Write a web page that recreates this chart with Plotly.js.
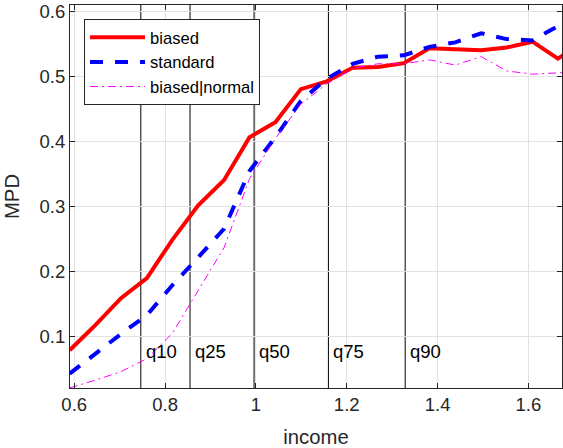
<!DOCTYPE html>
<html>
<head>
<meta charset="utf-8">
<script src="https://cdn.plot.ly/plotly-3.0.1.min.js"></script>
<style>
  body { margin: 0; background: #fff; }
  #chart { width: 563px; height: 448px; }
</style>
</head>
<body>
<div id="chart"></div>
<script>
// income grid
var income = [0.590, 0.647, 0.703, 0.760, 0.816, 0.873, 0.930, 0.986, 1.043, 1.099, 1.156,
              1.213, 1.269, 1.326, 1.382, 1.439, 1.496, 1.552, 1.609, 1.665, 1.722];

// MPD per model
var biased = [0.079, 0.118, 0.159, 0.190, 0.249, 0.302, 0.341, 0.407, 0.430, 0.481, 0.493,
              0.514, 0.515, 0.521, 0.544, 0.542, 0.541, 0.545, 0.554, 0.528, 0.555];
var standard = [0.043, 0.074, 0.104, 0.133, 0.179, 0.222, 0.266, 0.355, 0.407, 0.463, 0.497,
                0.520, 0.531, 0.533, 0.546, 0.553, 0.567, 0.558, 0.556, 0.578, 0.610];
var biasedNormal = [0.021, 0.033, 0.046, 0.066, 0.105, 0.172, 0.237, 0.343, 0.405, 0.458, 0.489,
                    0.513, 0.520, 0.520, 0.526, 0.518, 0.531, 0.509, 0.504, 0.506, 0.508];

// income quantiles
var qNames = ["q10", "q25", "q50", "q75", "q90"];
var qValues = [0.7466, 0.855, 0.996, 1.1597, 1.3287];
var qLabelY = 0.0766;

var xTicks = [0.6, 0.8, 1, 1.2, 1.4, 1.6];
var xTickText = ["0.6", "0.8", "1", "1.2", "1.4", "1.6"];
var yTicks = [0.1, 0.2, 0.3, 0.4, 0.5, 0.6];
var yTickText = ["0.1", "0.2", "0.3", "0.4", "0.5", "0.6"];

var font = "Liberation Sans, Arial, Helvetica, sans-serif";
var axisColor = "#262626";

var data = [
  {
    x: income, y: biased, name: "biased", type: "scatter", mode: "lines",
    line: { color: "#ff0000", width: 4 }
  },
  {
    x: income, y: standard, name: "standard", type: "scatter", mode: "lines",
    line: { color: "#0000ff", width: 4, dash: "13px,12px" }
  },
  {
    x: income, y: biasedNormal, name: "biased|normal", type: "scatter", mode: "lines",
    line: { color: "#ff00ff", width: 1, dash: "8px,4px,2px,4px" }
  }
];

var shapes = qValues.map(function (q) {
  return {
    type: "line", xref: "x", yref: "paper", x0: q, x1: q, y0: 0, y1: 1,
    line: { color: "#000000", width: 1 }, layer: "below"
  };
});

var annotations = qValues.map(function (q, i) {
  return {
    x: q, y: qLabelY, xref: "x", yref: "y", text: qNames[i],
    showarrow: false, xanchor: "left", yanchor: "middle", xshift: 3,
    font: { family: font, size: 18.5, color: "#000000" }
  };
});

var axisBase = {
  showline: true, mirror: "ticks", linecolor: axisColor, linewidth: 1,
  ticks: "inside", ticklen: 5, tickcolor: axisColor, tickwidth: 1,
  showgrid: true, gridcolor: "#e2e2e2", gridwidth: 1, zeroline: false,
  tickfont: { family: font, size: 18.5, color: axisColor }
};

var layout = {
  width: 563,
  height: 448,
  margin: { l: 70, r: 1, t: 5, b: 60 },
  paper_bgcolor: "#ffffff",
  plot_bgcolor: "#ffffff",
  showlegend: true,
  xaxis: Object.assign({}, axisBase, {
    range: [0.5907, 1.674],
    tickvals: xTicks, ticktext: xTickText,
    title: { text: "income", font: { family: font, size: 20.3, color: axisColor } }
  }),
  yaxis: Object.assign({}, axisBase, {
    range: [0.0208, 0.6105],
    tickvals: yTicks, ticktext: yTickText,
    title: { text: "MPD", font: { family: font, size: 20.3, color: axisColor } }
  }),
  legend: {
    x: 0.0285, y: 0.9634, xanchor: "left", yanchor: "top",
    bgcolor: "#ffffff", bordercolor: axisColor, borderwidth: 1,
    itemwidth: 55,
    font: { family: font, size: 16.6, color: "#000000" }
  },
  shapes: shapes,
  annotations: annotations
};

Plotly.newPlot("chart", data, layout, { displayModeBar: false, staticPlot: true });
</script>
</body>
</html>
